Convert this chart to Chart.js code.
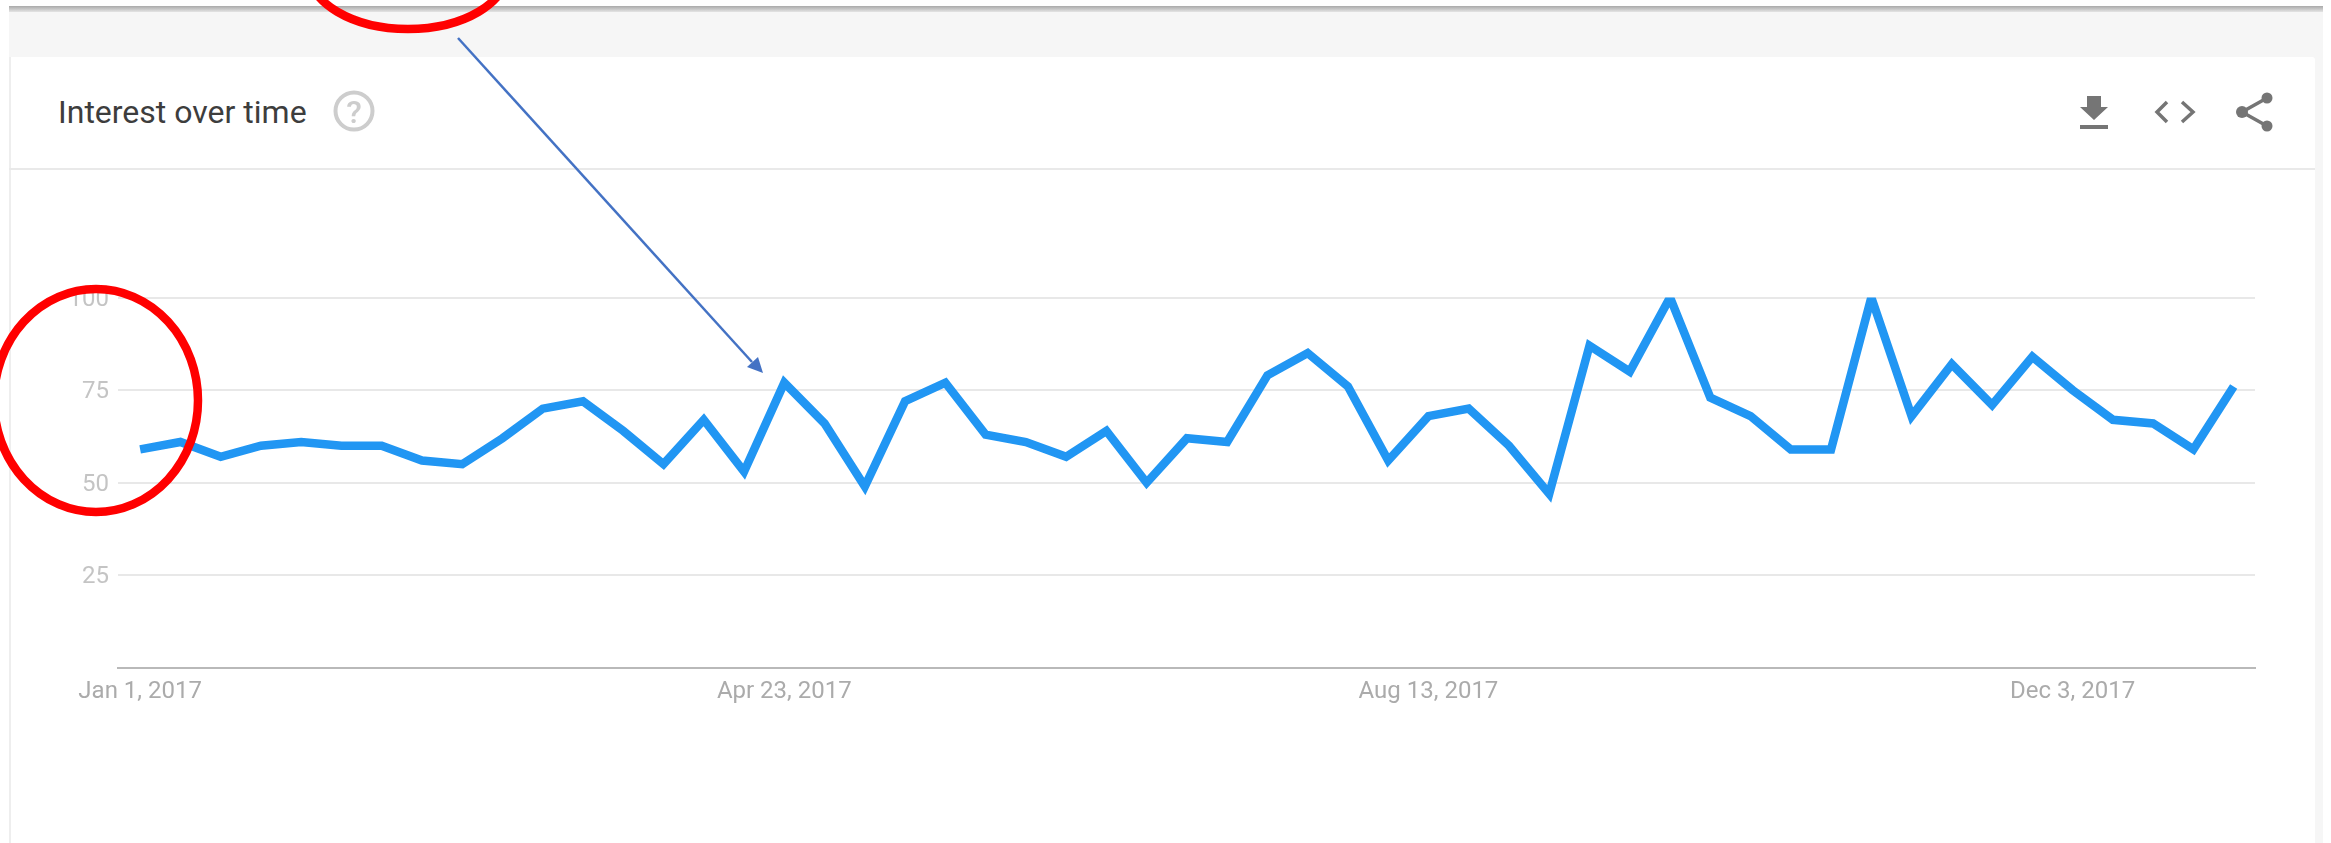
<!DOCTYPE html>
<html>
<head>
<meta charset="utf-8">
<style>
html,body{margin:0;padding:0;background:#fff;width:2331px;height:843px;overflow:hidden;font-family:Roboto,sans-serif}
.layer{position:absolute}
#topline{left:9px;top:6px;width:2314px;height:6px;background:linear-gradient(#a9a9a9,#e4e4e4)}
#band{left:9px;top:12px;width:2314px;height:831px;background:#f6f6f6}
#card{left:9px;top:57px;width:2306px;height:786px;background:#fff;border-radius:3px 3px 0 0}
#edge{left:9px;top:57px;width:2px;height:786px;background:#eeeeee}
#divider{left:9px;top:168px;width:2306px;height:2px;background:#e9e9e9}
#title{left:58px;top:94px;font-size:32px;line-height:36px;color:#3d3d3d;white-space:nowrap}
#chart{left:0;top:0}
#over{left:0;top:0}
</style>
</head>
<body>
<div class="layer" id="topline"></div>
<div class="layer" id="band"></div>
<div class="layer" id="card"></div>
<div class="layer" id="edge"></div>
<div class="layer" id="divider"></div>
<div class="layer" id="title">Interest over time</div>
<canvas class="layer" id="chart" width="2331" height="843"></canvas>
<svg class="layer" id="over" width="2331" height="843" viewBox="0 0 2331 843">
  <circle cx="354" cy="111" r="18.5" fill="none" stroke="#cdcdcd" stroke-width="4"/>
  <text x="354" y="122.5" font-family="Roboto" font-size="32" font-weight="500" fill="#cdcdcd" text-anchor="middle">?</text>
  <g fill="#757575">
    <path d="M2087 96H2101V107H2108L2094 120L2080 107H2087Z"/>
    <rect x="2080" y="125" width="28" height="4"/>
    <circle cx="2267" cy="98" r="5.5"/>
    <circle cx="2242" cy="112" r="6"/>
    <circle cx="2267" cy="126" r="5.5"/>
  </g>
  <g fill="none" stroke="#757575" stroke-width="3.5">
    <path d="M2167 102L2157 112L2167 122"/>
    <path d="M2182 102L2193 112L2182 122"/>
    <path d="M2267 98L2242 112L2267 126"/>
  </g>
  <ellipse cx="96" cy="400.5" rx="102" ry="111.5" fill="none" stroke="#ff0000" stroke-width="8.5"/>
  <ellipse cx="408" cy="-30" rx="100" ry="59" fill="none" stroke="#ff0000" stroke-width="8.5"/>
  <line x1="458" y1="38" x2="752" y2="362" stroke="#4472c4" stroke-width="2.5"/>
  <path d="M763 373L747 367L758 357Z" fill="#4472c4"/>
</svg>
<script src="https://cdn.jsdelivr.net/npm/chart.js@4/dist/chart.umd.min.js"></script>
<script>
const interest = [59,61,57,60,61,60,60,56,55,62,70,72,64,55,67,53,77,66,49,72,77,63,61,57,64,50,62,61,79,85,76,56,68,70,60,47,87,80,100,73,68,59,59,100,68,82,71,84,75,67,66,59,76];
const weekIndexes = [0,1,2,3,4,5,6,7,8,9,10,11,12,13,14,15,16,17,18,19,20,21,22,23,24,25,26,27,28,29,30,31,32,33,34,35,36,37,38,39,40,41,42,43,44,45,46,47,48,49,50,51,52];
const xTickPositions = [0,16,32,48];
const xTickLabels = ["Jan 1, 2017","Apr 23, 2017","Aug 13, 2017","Dec 3, 2017"];
const yTickValues = [25,50,75,100];

new Chart(document.getElementById('chart'), {
  type: 'line',
  data: {
    datasets: [{
      label: 'Interest over time',
      data: weekIndexes.map((w, i) => ({x: w, y: interest[i]})),
      borderColor: '#2196f3',
      borderWidth: 8.5,
      borderJoinStyle: 'miter',
      borderCapStyle: 'butt',
      pointRadius: 0,
      tension: 0,
      fill: false,
      clip: 0
    }]
  },
  options: {
    responsive: false,
    devicePixelRatio: 1,
    animation: false,
    layout: {padding: {left: 0, right: 76, top: 297.5, bottom: 0}},
    plugins: {legend: {display: false}, tooltip: {enabled: false}, title: {display: false}},
    scales: {
      x: {
        type: 'linear',
        min: -0.55,
        max: 52.53,
        afterFit: s => { s.height = 175; },
        afterBuildTicks: s => { s.ticks = xTickPositions.map(v => ({value: v})); },
        grid: {display: false},
        border: {display: true, color: '#b9b9b9', width: 2},
        ticks: {
          autoSkip: false, maxRotation: 0, minRotation: 0, padding: 2,
          color: '#ababab', font: {family: 'Roboto', size: 24},
          callback: v => xTickLabels[xTickPositions.indexOf(v)] ?? ''
        }
      },
      y: {
        min: 0,
        max: 100,
        afterFit: s => { s.width = 118; },
        afterBuildTicks: s => { s.ticks = yTickValues.map(v => ({value: v})); },
        border: {display: false},
        grid: {color: '#e8e8e8', lineWidth: 2, drawTicks: false},
        ticks: {
          padding: 9, labelOffset: 2, color: '#c4c4c4', font: {family: 'Roboto', size: 24}
        }
      }
    }
  }
});
</script>
</body>
</html>
